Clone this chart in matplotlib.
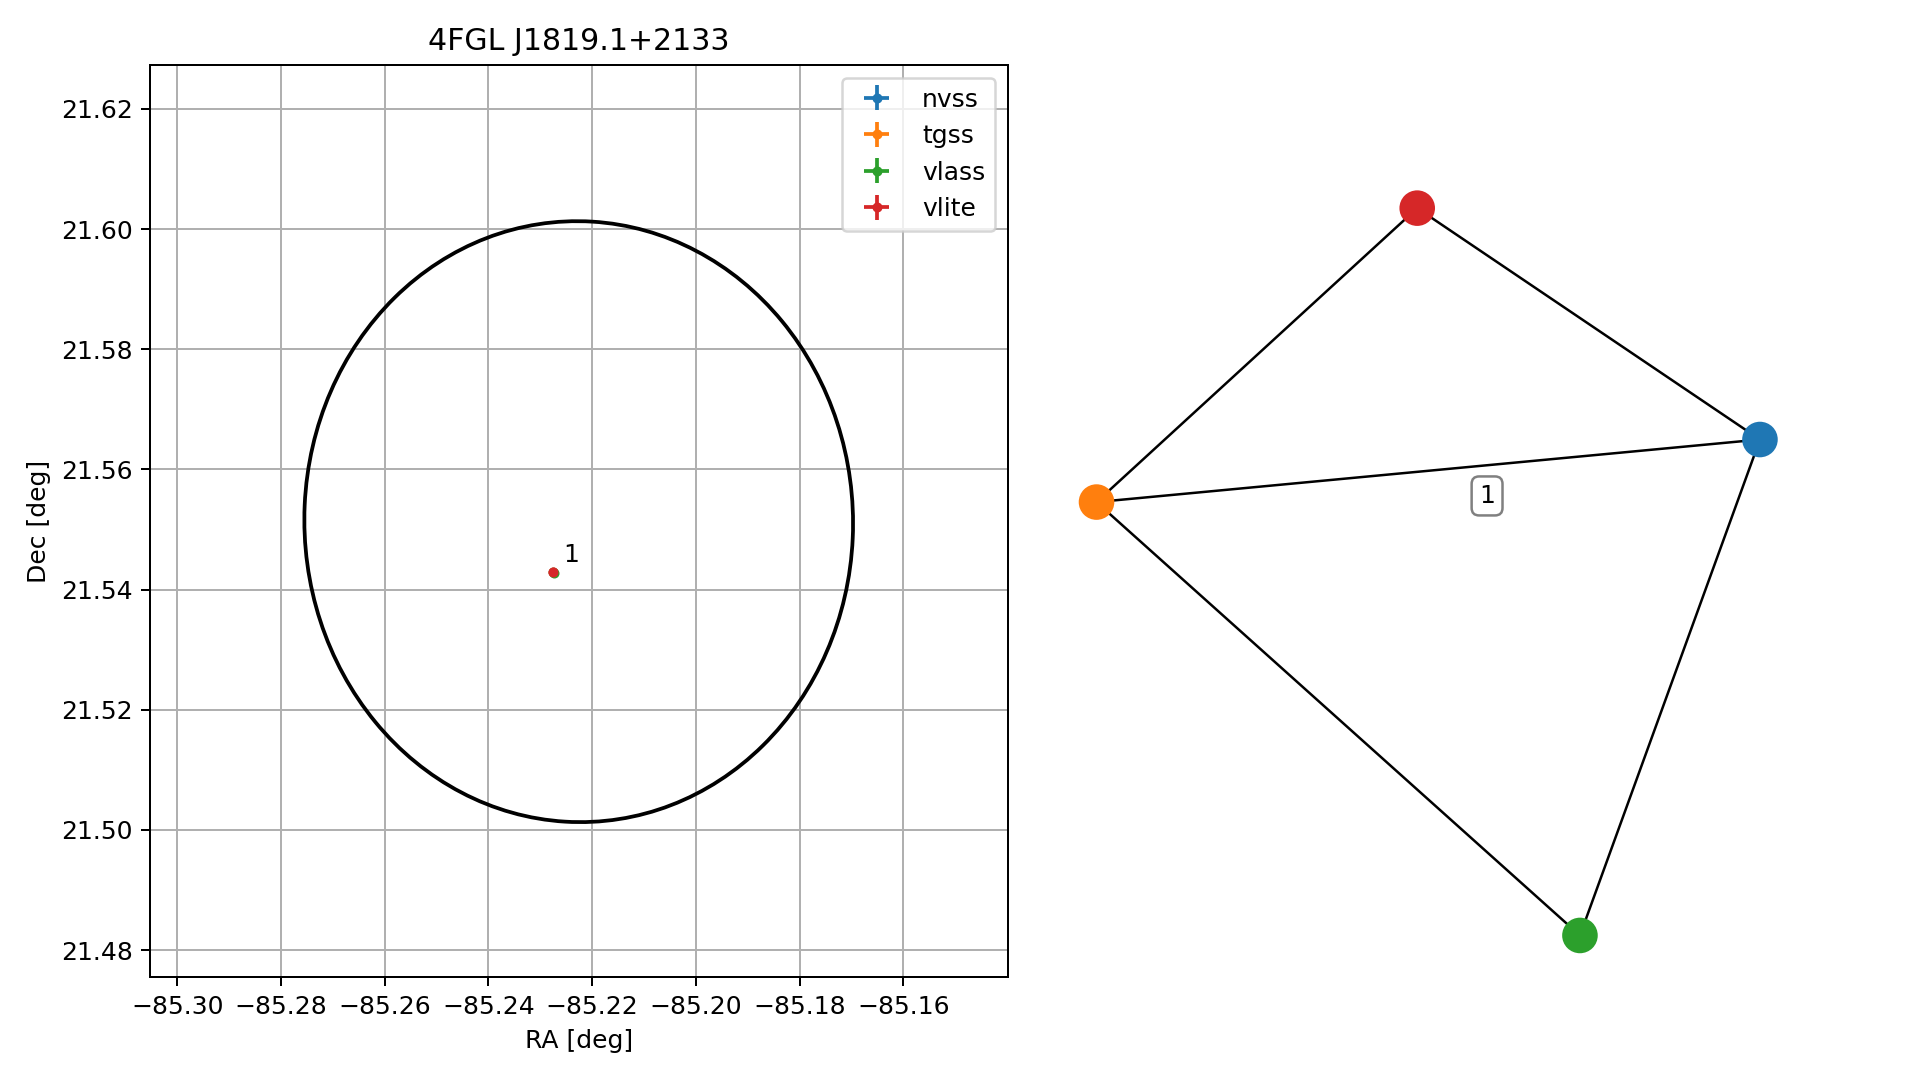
import matplotlib
matplotlib.use("Agg")
import matplotlib.pyplot as plt
from matplotlib.patches import Ellipse

# ---- data ----
title = "4FGL J1819.1+2133"
surveys = ["nvss", "tgss", "vlass", "vlite"]
colors = ["#1f77b4", "#ff7f0e", "#2ca02c", "#d62728"]
ra = [-85.2275, -85.2276, -85.2274, -85.2275]
dec = [21.5430, 21.5430, 21.5428, 21.5430]
ra_err = [0.0003, 0.0004, 0.0002, 0.0003]
dec_err = [0.0003, 0.0004, 0.0002, 0.0003]
match_label = "1"

ell_center = (-85.2226, 21.5513)
ell_width = 0.1058
ell_height = 0.1000
ell_angle = -3.0

xlim = (-85.3052, -85.1399)
ylim = (21.4755, 21.6273)
xticks = [-85.30, -85.28, -85.26, -85.24, -85.22, -85.20, -85.18, -85.16]
yticks = [21.48, 21.50, 21.52, 21.54, 21.56, 21.58, 21.60, 21.62]

# network graph (node layout positions)
node_names = ["nvss", "tgss", "vlass", "vlite"]
node_x = [0.9178, 0.0535, 0.6833, 0.4713]
node_y = [0.6163, 0.5439, 0.0423, 0.8841]
edges = [("tgss", "vlite"), ("vlite", "nvss"), ("tgss", "nvss"),
         ("tgss", "vlass"), ("vlass", "nvss")]
edge_label_pos = (0.5623, 0.551)
edge_label = "1"

# ---- figure ----
DPI = 180
fig = plt.figure(figsize=(1919 / DPI, 1080 / DPI), dpi=DPI)
ax = fig.add_axes([0.0783, 0.0953, 0.4468, 0.8445])

ell = Ellipse(ell_center, ell_width, ell_height, angle=ell_angle,
              fill=False, edgecolor="black", linewidth=1.5)
ax.add_patch(ell)

for name, c, x, y, xe, ye in zip(surveys, colors, ra, dec, ra_err, dec_err):
    ax.errorbar(x, y, xerr=xe, yerr=ye, fmt=".", color=c, label=name)

ax.annotate(match_label, (ra[0], dec[0]), xytext=(4, 4),
            textcoords="offset points", fontsize=10)

ax.set_xlim(*xlim)
ax.set_ylim(*ylim)
ax.set_xticks(xticks)
ax.set_yticks(yticks)
ax.set_xticklabels([f"{t:.2f}".replace("-", "\u2212") for t in xticks])
ax.set_yticklabels([f"{t:.2f}" for t in yticks])
ax.grid(True)
ax.set_axisbelow(True)
ax.set_xlabel("RA [deg]")
ax.set_ylabel("Dec [deg]")
ax.set_title(title)
ax.legend(loc="upper right")

# ---- network axes ----
ax2 = fig.add_axes([0.55, 0.1, 0.4, 0.8])
pos = {n: (x, y) for n, x, y in zip(node_names, node_x, node_y)}
for a, b in edges:
    ax2.plot([pos[a][0], pos[b][0]], [pos[a][1], pos[b][1]],
             color="black", linewidth=1.0, zorder=1)
ax2.scatter(node_x, node_y, s=175, c=colors, zorder=2)
ax2.text(edge_label_pos[0], edge_label_pos[1], edge_label, ha="center",
         va="center", fontsize=10,
         bbox=dict(boxstyle="round", ec="gray", fc="white"), zorder=3)
ax2.set_xlim(0, 1)
ax2.set_ylim(0, 1)
ax2.axis("off")

fig.savefig("out.png", dpi=DPI)
